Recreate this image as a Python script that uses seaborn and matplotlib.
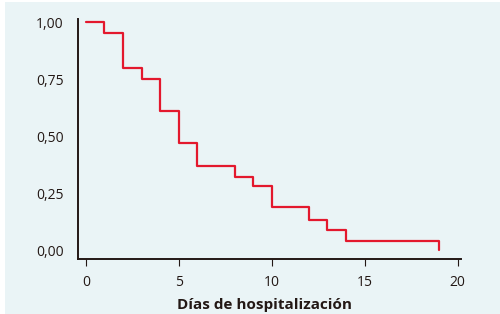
import matplotlib
matplotlib.use("Agg")
import matplotlib.pyplot as plt
import seaborn as sns
import pandas as pd
from matplotlib.patches import Rectangle

# Data (Kaplan-Meier style step curve)
dias = [0, 1, 2, 3, 4, 5, 6, 8, 9, 10, 12, 13, 14, 19, 19]
supervivencia = [1.00, 0.95, 0.80, 0.75, 0.61, 0.47, 0.37, 0.32, 0.28, 0.19, 0.13, 0.09, 0.04, 0.04, 0.00]
x_ticks = [0, 5, 10, 15, 20]
y_ticks = [0.00, 0.25, 0.50, 0.75, 1.00]
y_tick_labels = ["0,00", "0,25", "0,50", "0,75", "1,00"]
x_label = "Días de hospitalización"

sns.set_theme(style="white")
plt.rcParams["font.family"] = ["Open Sans", "DejaVu Sans"]

bg = "#eaf4f6"
fig = plt.figure(figsize=(5.0, 3.14), dpi=100, facecolor="white")
fig.patches.append(Rectangle((5 / 500, 0), 1, 1 - 2 / 314, transform=fig.transFigure,
                             facecolor=bg, edgecolor="none", zorder=-10))
ax = fig.add_axes([0.155, 0.176, 0.7676, 0.7625])
ax.set_facecolor(bg)

df = pd.DataFrame({"dias": dias, "s": supervivencia})
sns.lineplot(data=df, x="dias", y="s", ax=ax, estimator=None, sort=False,
             drawstyle="steps-post", color="#e3182d", linewidth=1.6)

ax.set_xlim(-0.45, 20.2)
ax.set_ylim(-0.038, 1.012)
ax.set_xticks(x_ticks)
ax.set_xticklabels([str(t) for t in x_ticks])
ax.set_yticks(y_ticks)
ax.set_yticklabels(y_tick_labels)

for s in ["top", "right"]:
    ax.spines[s].set_visible(False)
for s in ["left", "bottom"]:
    ax.spines[s].set_color("#231815")
    ax.spines[s].set_linewidth(1.4)

ax.tick_params(axis="x", direction="out", length=5, width=0.8, color="#231815",
               pad=7, labelsize=10, labelcolor="#231815", bottom=True)
ax.tick_params(axis="y", length=0, pad=10, labelsize=10, labelcolor="#231815")

ax.set_xlabel(x_label, fontsize=11, fontweight="bold", color="#231815")
ax.xaxis.set_label_coords(0.488, -0.165)
ax.set_ylabel("")

fig.savefig("out.png", dpi=100, facecolor=fig.get_facecolor())
